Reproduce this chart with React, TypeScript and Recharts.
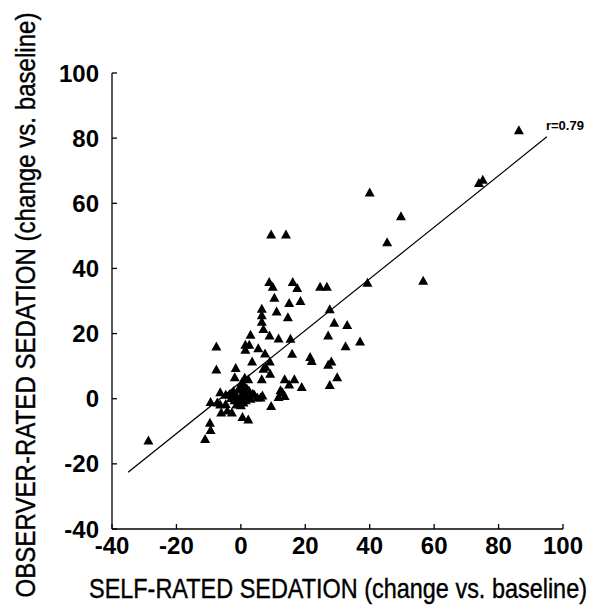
import React from "react";
import {
  ScatterChart,
  Scatter,
  XAxis,
  YAxis,
  ReferenceLine,
  ReferenceDot,
  Label,
} from "recharts";

const selfRated: number[] = [
  86.3, 73.9, 75.1, 40, 49.7, 45.4, 56.6, 39.3,
  9.4, 14, 8.8, 9.9, 16.1, 17.5, 24.6, 26.7,
  10.4, 15, 18.5, 11.1, 14.6, 27.6, 6.5, 6.5, 6.5, 7,
  29, 33, 3, 8.9, 11.7, 15.4, 27.1, 37, 32.5,
  -7.6, 1.4, 2.6, 1.4, 5.4, 15.9, 7.5, 21.5, 22, 28.1, 27.1,
  3.5, 9, 7.7, 7, -7.6, -1.6, 9.1, -1.9, 1.2, 2.3, 6.5, 13.6, 16.6, 29.9,
  15, 18.9, 27.6, 12.3, 12.9, 13.6, 11.7, -6.4, -9.4, -7.3, -6.4,
  -4.7, -3.5, -2.3, -4.7, -6.1, -4.2, -2.8, -1.4, 0.5, 2.3, 9.4,
  3.7, 4.2, 5.1, 6.1, 6.7, -9.6, -9.4, -11.1, -28.7, -2.3, 0,
  -1, 0, 1, -0.5, 0.5, 1.5, 2, -1.5, 0, 1, 2.5, -0.8, 0.8, -2, 3, 1.8, -3, 0.3,
];

const observerRated: number[] = [
  82.4, 66.2, 67.2, 63.3, 56, 48, 36.2, 35.6,
  50.4, 50.4, 35.8, 34.4, 35.8, 34, 34.4, 34.4,
  31, 29.4, 30, 26.8, 25, 27.5, 27.6, 25.6, 23.6, 21.4,
  23.3, 22.6, 19.6, 19.4, 18.5, 18.4, 19.4, 17.6, 16.1,
  16, 16.6, 16.6, 15, 15.5, 13.8, 13.9, 12.8, 11.6, 11.4, 10.4,
  11.4, 11.4, 9.8, 9.2, 9, 9.4, 7.7, 6.6, 6.4, 6, 6, 6, 6, 6.6,
  4.4, 3.6, 4.2, 2.6, 2, 0.8, 0.5, 2, -1, -1.2, -1.8,
  1.2, 1.4, 1.2, -1.6, -4.2, -3.6, -4.2, -1.8, -5.6, -6.4, -2.2,
  1.5, 1.2, 0.4, 0.4, 1, -7.4, -9.6, -12.4, -12.8, 2.4, 3.6,
  0, 1, 2, -1, 0.5, -0.5, 1, 1, -2, 4, 2.5, 2.8, -1.2, -0.5, 0, 3.2, 0.2, 5,
];

const axisTicks: number[] = [-40, -20, 0, 20, 40, 60, 80, 100];
const fitLineX: number[] = [-35, 95];
const fitLineY: number[] = [-22.6, 80.4];
const rLabel = "r=0.79";

const xTitle = "SELF-RATED SEDATION (change vs. baseline)";
const yTitle = "OBSERVER-RATED SEDATION (change vs. baseline)";

const points = selfRated.map((x, i) => ({ x, y: observerRated[i] }));

const FONT = "'Liberation Sans', Arial, Helvetica, sans-serif";

const Triangle = (props: any) => {
  const { cx, cy } = props;
  if (cx == null || cy == null) return null;
  return (
    <polygon
      points={`${cx},${cy - 5} ${cx - 5},${cy + 4} ${cx + 5},${cy + 4}`}
      fill="#000"
    />
  );
};

const tickStyle = {
  fontFamily: FONT,
  fontWeight: 700,
  fontSize: 24,
  fill: "#000",
};

export default function App() {
  return (
    <div style={{ position: "absolute", left: 0, top: 0, background: "#fff" }}>
      <ScatterChart
        width={591}
        height={611}
        margin={{ top: 73, right: 28, bottom: 0, left: 0 }}
      >
        <XAxis
          type="number"
          dataKey="x"
          domain={[-40, 100]}
          ticks={axisTicks}
          interval={0}
          height={82}
          axisLine={{ stroke: "#000", strokeWidth: 1.3 }}
          tickLine={{ stroke: "#000", strokeWidth: 1.3 }}
          tickSize={-5}
          tickMargin={13}
          tick={tickStyle}
          allowDataOverflow
        >
          <Label
            content={() => (
              <text
                x={338}
                y={598}
                textAnchor="middle"
                fontFamily={FONT}
                fontSize={28}
                fill="#000"
                stroke="#000"
                strokeWidth={0.4}
                textLength={498}
                lengthAdjust="spacingAndGlyphs"
              >
                {xTitle}
              </text>
            )}
          />
        </XAxis>
        <YAxis
          type="number"
          dataKey="y"
          domain={[-40, 100]}
          ticks={axisTicks}
          interval={0}
          width={112}
          axisLine={{ stroke: "#000", strokeWidth: 1.3 }}
          tickLine={{ stroke: "#000", strokeWidth: 1.3 }}
          tickSize={-5}
          tickMargin={18}
          tick={tickStyle}
          allowDataOverflow
        >
          <Label
            content={() => (
              <text
                x={35}
                y={305}
                transform="rotate(-90 35 305)"
                textAnchor="middle"
                fontFamily={FONT}
                fontSize={28}
                fill="#000"
                stroke="#000"
                strokeWidth={0.4}
                textLength={585}
                lengthAdjust="spacingAndGlyphs"
              >
                {yTitle}
              </text>
            )}
          />
        </YAxis>
        <ReferenceLine
          segment={[
            { x: fitLineX[0], y: fitLineY[0] },
            { x: fitLineX[1], y: fitLineY[1] },
          ]}
          stroke="#000"
          strokeWidth={1.2}
        />
        <ReferenceDot
          x={fitLineX[1]}
          y={fitLineY[1]}
          r={0}
          fill="none"
          stroke="none"
          label={{
            value: rLabel,
            position: "top",
            dx: 18,
            dy: -2,
            style: {
              fontFamily: FONT,
              fontWeight: 700,
              fontSize: 13,
              fill: "#000",
            },
          }}
        />
        <Scatter
          data={points}
          shape={Triangle}
          isAnimationActive={false}
        />
      </ScatterChart>
    </div>
  );
}
